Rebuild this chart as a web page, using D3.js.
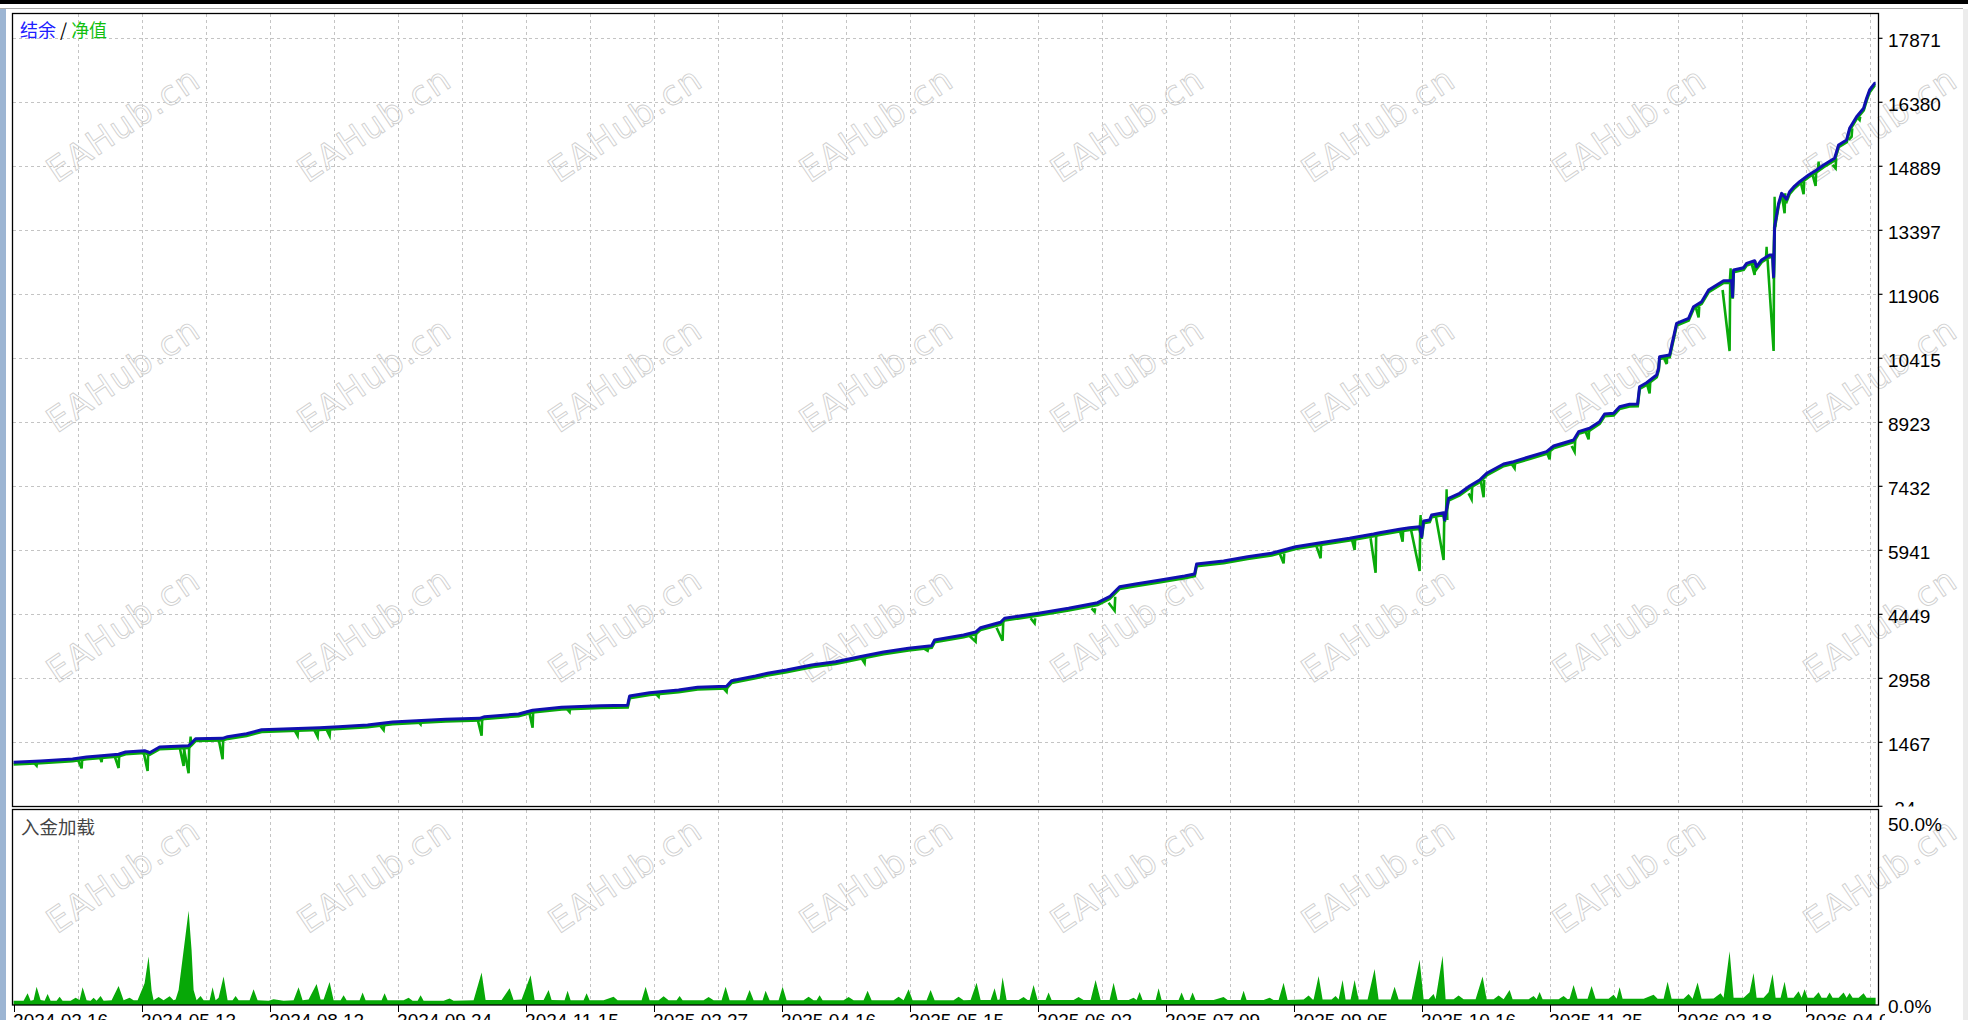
<!DOCTYPE html>
<html><head><meta charset="utf-8">
<script src="https://cdn.jsdelivr.net/npm/d3@7/dist/d3.min.js"></script>
<style>
html,body{margin:0;padding:0;background:#fff;overflow:hidden;}
svg{display:block;}
</style></head><body>
<svg id="c" width="1968" height="1020"></svg>
<script>
// ---------- DATA ----------
// balance: [trade number, balance]
const balanceSeries = [[0,1000],[27,1032],[59,1078],[73,1125],[85,1148],[105,1188],[112,1241],[131,1272],[136,1225],[146,1358],[175,1388],[178,1451],[182,1551],[209,1560],[214,1598],[233,1668],[248,1761],[277,1784],[306,1807],[325,1831],[354,1870],[379,1940],[403,1971],[432,2003],[466,2026],[471,2064],[505,2127],[519,2213],[548,2283],[587,2320],[614,2330],[616,2546],[636,2623],[665,2686],[684,2749],[713,2772],[718,2903],[742,3012],[754,3075],[773,3152],[798,3268],[822,3345],[846,3462],[870,3571],[895,3657],[918,3718],[921,3851],[950,3967],[962,4037],[967,4137],[987,4263],[991,4357],[1025,4473],[1055,4590],[1084,4720],[1096,4860],[1106,5093],[1122,5156],[1147,5249],[1171,5342],[1181,5389],[1183,5622],[1210,5692],[1234,5792],[1258,5871],[1282,6025],[1307,6118],[1336,6221],[1360,6321],[1366,6351],[1386,6430],[1396,6468],[1406,6491],[1408,6258],[1410,6624],[1416,6647],[1418,6764],[1430,6817],[1431,6647],[1435,7153],[1446,7269],[1456,7439],[1466,7579],[1473,7735],[1490,7952],[1500,8006],[1516,8122],[1533,8239],[1540,8371],[1560,8511],[1565,8705],[1576,8784],[1586,8938],[1591,9117],[1600,9133],[1606,9287],[1616,9343],[1624,9350],[1626,9753],[1633,9846],[1643,10026],[1645,10182],[1646,10452],[1656,10492],[1663,11230],[1675,11347],[1680,11617],[1688,11734],[1695,12006],[1710,12223],[1718,12223],[1719,11850],[1720,12472],[1730,12526],[1733,12628],[1741,12689],[1743,12549],[1748,12705],[1756,12822],[1759,12822],[1760,12316],[1761,13481],[1765,14026],[1768,14259],[1773,14120],[1776,14297],[1781,14429],[1786,14530],[1795,14686],[1803,14802],[1810,14919],[1821,15075],[1825,15385],[1833,15502],[1836,15774],[1843,16044],[1850,16240],[1853,16473],[1856,16666],[1861,16822],[1862,16822]];
// equity drawdowns: [start trade, trade of low, lowest equity]
const equityDips = [[20,23,922],[64,68,861],[86,88,1008],[101,105,868],[130,134,798],[166,170,915],[170,175,745],[205,209,1071],[280,284,1621],[300,304,1598],[312,316,1621],[366,370,1754],[404,407,1887],[464,468,1621],[516,519,1807],[552,556,2173],[641,645,2530],[709,713,2646],[847,851,3315],[910,914,3602],[955,962,3811],[983,989,3835],[1017,1021,4240],[1078,1081,4510],[1095,1101,4534],[1266,1270,5638],[1303,1307,5755],[1338,1341,5948],[1357,1362,5419],[1386,1389,6141],[1397,1406,5459],[1422,1430,5715],[1455,1458,7129],[1467,1470,7176],[1498,1501,7852],[1533,1536,8061],[1558,1561,8239],[1572,1575,8527],[1633,1636,9599],[1650,1653,10282],[1682,1685,11370],[1709,1716,10585],[1738,1741,12356],[1754,1760,10585],[1768,1771,13793],[1787,1790,14236],[1799,1802,14429],[1819,1822,14842],[1835,1838,15578],[1843,1846,15967]];
// equity above balance: [trade, equity]
const equitySpikes = [[177,1598],[1407,6764],[1433,7362],[1717,12512],[1753,13015],[1761,14180],[1805,14996]];
// deposit load (%): [trade, load]
const loadSeries = [[0,1.2],[10,1.2],[14,3.2],[17,1.2],[20,1.4],[23,5.0],[27,1.4],[31,1.2],[34,3.0],[37,1.2],[43,1.2],[46,2.3],[49,1.2],[57,1.2],[62,2.0],[66,1.4],[69,4.9],[73,1.3],[77,1.2],[80,2.0],[83,1.2],[87,2.5],[90,1.2],[98,1.3],[105,5.2],[110,1.3],[116,2.0],[120,1.3],[124,1.3],[131,6],[135,13.3],[138,4],[140,1.3],[145,2.2],[150,1.3],[156,2.4],[160,1.3],[162,1.5],[165,4.1],[170,15],[175,25.9],[178,15],[180,4.1],[183,1.3],[187,2.5],[190,1.3],[196,1.3],[199,4.9],[202,1.3],[205,2.0],[210,7.8],[214,1.3],[219,1.3],[222,2.5],[225,1.3],[236,1.3],[240,4.3],[244,1.3],[255,1.2],[260,1.6],[270,1.2],[280,1.3],[285,4.9],[289,1.3],[295,1.5],[303,5.8],[307,1.5],[310,1.5],[316,6.3],[320,1.3],[327,1.3],[330,2.7],[333,1.3],[346,1.3],[349,3.4],[352,1.3],[368,1.3],[371,3.2],[374,1.3],[390,1.3],[395,2.0],[399,1.2],[404,1.2],[407,2.7],[410,1.2],[430,1.2],[436,1.8],[440,1.2],[460,1.3],[468,8.9],[472,1.4],[488,1.4],[496,4.6],[500,1.4],[508,1.5],[517,8.2],[521,1.4],[530,1.4],[535,4.1],[538,1.4],[551,1.3],[554,3.9],[557,1.3],[570,1.3],[573,3.2],[576,1.3],[590,1.3],[600,2.3],[604,1.3],[628,1.3],[632,5.0],[636,1.3],[645,1.3],[650,2.4],[655,1.3],[663,1.3],[666,2.5],[669,1.3],[690,1.3],[695,2.2],[700,1.3],[708,1.3],[712,5.0],[716,1.3],[732,1.3],[736,4.1],[740,1.3],[749,1.3],[752,3.9],[756,1.3],[765,1.3],[769,5.0],[773,1.3],[790,1.3],[795,2.3],[800,1.3],[803,1.3],[806,2.7],[809,1.3],[830,1.3],[835,2.2],[840,1.3],[850,1.3],[854,3.9],[858,1.3],[880,1.3],[885,2.3],[890,1.3],[895,4.3],[899,1.3],[913,1.3],[917,4.1],[921,1.3],[940,1.3],[945,2.3],[950,1.3],[957,1.4],[963,6.1],[967,1.4],[977,1.4],[981,4.6],[984,1.4],[986,1.5],[989,7.6],[993,1.4],[1005,1.4],[1010,2.2],[1014,1.4],[1016,1.4],[1020,5.5],[1024,1.4],[1032,1.4],[1035,3.4],[1038,1.4],[1060,1.4],[1065,2.2],[1070,1.4],[1077,1.4],[1082,6.9],[1087,1.4],[1096,1.4],[1100,6.1],[1104,1.4],[1115,1.4],[1120,2.0],[1123,1.4],[1126,3.6],[1129,1.4],[1142,1.4],[1145,4.6],[1148,1.4],[1165,1.4],[1168,3.4],[1171,1.4],[1176,1.4],[1179,3.4],[1182,1.4],[1200,1.4],[1210,2.2],[1214,1.4],[1227,1.4],[1230,3.9],[1233,1.4],[1250,1.4],[1256,2.0],[1260,1.4],[1265,1.4],[1270,6.1],[1274,1.4],[1290,1.5],[1295,2.6],[1299,1.5],[1300,1.5],[1305,8.0],[1309,1.5],[1318,1.5],[1322,2.5],[1325,1.5],[1329,6.9],[1332,1.5],[1337,1.5],[1341,6.9],[1345,1.5],[1354,1.5],[1361,9.9],[1365,1.5],[1377,1.5],[1381,5.0],[1385,1.5],[1398,1.5],[1406,12.4],[1410,1.6],[1415,1.6],[1420,3.0],[1422,1.6],[1429,13.5],[1432,1.6],[1440,1.6],[1445,2.6],[1450,1.6],[1462,1.6],[1469,7.8],[1473,1.6],[1480,1.6],[1485,2.6],[1490,1.6],[1496,4.1],[1499,1.6],[1515,1.6],[1520,2.5],[1523,1.6],[1526,3.6],[1529,1.6],[1545,1.6],[1550,2.5],[1554,1.6],[1556,1.7],[1560,5.5],[1564,1.7],[1574,1.7],[1578,5.2],[1582,1.7],[1595,1.7],[1600,2.8],[1603,1.7],[1606,4.9],[1609,1.7],[1630,1.7],[1640,2.8],[1644,1.7],[1650,1.7],[1654,6.4],[1658,1.7],[1670,1.7],[1675,3.0],[1679,1.7],[1684,6.2],[1688,1.7],[1700,1.8],[1707,3.2],[1710,2.0],[1716,14.8],[1720,2.0],[1730,2.0],[1736,3.5],[1740,8.8],[1743,2.0],[1750,2.0],[1755,3.5],[1759,8.5],[1762,2.0],[1767,2.0],[1771,6.4],[1774,2.0],[1780,2.0],[1785,3.8],[1788,2.0],[1791,4.3],[1794,2.0],[1800,2.0],[1805,3.5],[1808,2.0],[1813,2.0],[1816,3.4],[1819,2.0],[1825,2.0],[1830,3.4],[1833,2.0],[1836,3.3],[1839,2.0],[1845,2.0],[1850,3.2],[1853,2.0],[1862,2.0]];
const yTickValues = [-24,1467,2958,4449,5941,7432,8923,10415,11906,13397,14889,16380,17871];
const dateLabels = ["2024.02.16","2024.05.13","2024.08.12","2024.09.24","2024.11.15","2025.02.27","2025.04.16","2025.05.15","2025.06.02","2025.07.09","2025.09.05","2025.10.16","2025.11.25","2026.02.18","2026.04.07"];
const loadTickValues = [0,50];
const loadTickLabels = ["0.0%","50.0%"];
const legendBalance = "结余", legendEquity = "净值", loadTitle = "入金加载";
const watermarkText = "EAHub.cn";
const totalTrades = 1864;

// ---------- LAYOUT ----------
const svg = d3.select('#c');
const W = 1968, H = 1020;
const L = 12.5, R = 1878.5, MT = 13.5, MB = 806.5, LT = 809.5, LB = 1005;
const x = d3.scaleLinear().domain([0, totalTrades]).range([13.6, 1877.6]);
const y = d3.scaleLinear().domain([-24, 17871]).range([806.3, 38.3]);
const yl = d3.scaleLinear().domain([0, 50]).range([1005, 823]);
const FONT = "'Liberation Sans', Arial, sans-serif";
const CJK = "'Noto Sans CJK SC', sans-serif";
const BLUE = "#1010b0", GREEN = "#0aaa0a";

// chrome
svg.append('rect').attr('x',0).attr('y',0).attr('width',W).attr('height',H).attr('fill','#fff');
svg.append('rect').attr('x',0).attr('y',0).attr('width',W).attr('height',4).attr('fill','#000');
svg.append('line').attr('x1',0).attr('x2',1963).attr('y1',8.5).attr('y2',8.5).attr('stroke','#a8a8a8');
svg.append('rect').attr('x',0).attr('y',9).attr('width',6).attr('height',H-9).attr('fill','#9cb5d3');
svg.append('rect').attr('x',1963).attr('y',9).attr('width',5).attr('height',H-9).attr('fill','#ececec');

const defs = svg.append('defs');
defs.append('clipPath').attr('id','mainClip').append('rect').attr('x',L).attr('y',MT).attr('width',R-L).attr('height',MB-MT);
defs.append('clipPath').attr('id','lowClip').append('rect').attr('x',L).attr('y',LT).attr('width',R-L).attr('height',LB-LT);
defs.append('clipPath').attr('id','yLabClip').append('rect').attr('x',R).attr('y',0).attr('width',W-R).attr('height',MB);
defs.append('clipPath').attr('id','xLabClip').append('rect').attr('x',0).attr('y',LB).attr('width',1885).attr('height',H-LB);

// grid
const grid = svg.append('g').attr('stroke','#c4c4c4').attr('stroke-width',1).attr('stroke-dasharray','3,3').attr('shape-rendering','crispEdges');
const gridTrades = d3.range(64, totalTrades, 64);
grid.selectAll('.gv').data(gridTrades).join('line')
  .attr('x1',d=>Math.round(x(d))+0.5).attr('x2',d=>Math.round(x(d))+0.5).attr('y1',MT).attr('y2',MB);
grid.selectAll('.gv2').data(gridTrades).join('line')
  .attr('x1',d=>Math.round(x(d))+0.5).attr('x2',d=>Math.round(x(d))+0.5).attr('y1',LT).attr('y2',LB);
grid.selectAll('.gh').data(yTickValues.slice(1)).join('line')
  .attr('x1',L).attr('x2',R).attr('y1',d=>Math.round(y(d))+0.5).attr('y2',d=>Math.round(y(d))+0.5);

// watermark
const wm = svg.append('g').attr('fill','none').attr('stroke','#cfcfcf').attr('stroke-width',0.9);
for (let k=0;k<8;k++) for (let m=0;m<4;m++) {
  wm.append('text').attr('transform',`translate(${123+251*k},${124+250.3*m}) rotate(-34)`)
    .attr('text-anchor','middle').attr('dy','0.36em')
    .style('font-family',"'DejaVu Sans', sans-serif").style('font-size','34px').style('letter-spacing','1.5px')
    .text(watermarkText);
}

// balance lookup
const balAt = t => { let v = balanceSeries[0][1]; for (const [bt,bv] of balanceSeries) { if (bt<=t) v=bv; else break; } return v; };

// main panel lines
const gm = svg.append('g').attr('clip-path','url(#mainClip)');
const balLine = d3.line().x(d=>x(d[0])).y(d=>y(d[1]));
gm.append('path').datum(balanceSeries).attr('d',balLine).attr('fill','none')
  .attr('stroke',GREEN).attr('stroke-width',3).attr('transform','translate(0,2)');
const lin = d3.line().x(d=>x(d[0])).y(d=>y(d[1]));
gm.selectAll('.dip').data(equityDips).join('path')
  .attr('d',d=>lin([[d[0],balAt(d[0])],[d[1],d[2]],[d[1]+0.6,balAt(d[1]+1)]]))
  .attr('fill','none').attr('stroke',GREEN).attr('stroke-width',2.6).attr('stroke-linejoin','miter');
gm.selectAll('.spk').data(equitySpikes).join('path')
  .attr('d',d=>lin([[d[0]-0.8,balAt(d[0]-1)],[d[0],d[1]],[d[0]+0.8,balAt(d[0]+1)]]))
  .attr('fill','none').attr('stroke',GREEN).attr('stroke-width',2.4);
gm.append('path').datum(balanceSeries).attr('d',balLine).attr('fill','none')
  .attr('stroke',BLUE).attr('stroke-width',3).attr('stroke-linejoin','round');

// lower panel: deposit load
const gl = svg.append('g').attr('clip-path','url(#lowClip)');
gl.append('path').datum(loadSeries)
  .attr('d', d3.area().x(d=>x(d[0])).y0(yl(0)).y1(d=>yl(d[1])))
  .attr('fill','#07a807');

// frames
const fr = svg.append('g').attr('fill','none').attr('stroke','#000').attr('stroke-width',1.3);
fr.append('rect').attr('x',L).attr('y',MT).attr('width',R-L).attr('height',MB-MT);
fr.append('rect').attr('x',L).attr('y',LT).attr('width',R-L).attr('height',LB-LT);

// right axis ticks + labels
const ya = svg.append('g');
ya.selectAll('line').data(yTickValues).join('line')
  .attr('x1',R).attr('x2',R+4).attr('y1',d=>y(d)).attr('y2',d=>y(d)).attr('stroke','#000').attr('stroke-width',1.2);
ya.append('g').attr('clip-path','url(#yLabClip)').selectAll('text').data(yTickValues).join('text')
  .attr('x',1888).attr('y',d=>y(d)+8.4).style('font-family',FONT).style('font-size','19px').attr('fill','#000')
  .text(d=>d);
svg.selectAll('.lt').data(loadTickValues).join('text')
  .attr('x',1888).attr('y',d=>yl(d)+7.6).style('font-family',FONT).style('font-size','19px').attr('fill','#000')
  .text((d,i)=>loadTickLabels[i]);

// bottom axis
const dateTrades = d3.range(0, dateLabels.length*128, 128);
const xa = svg.append('g');
xa.selectAll('line').data(dateTrades).join('line')
  .attr('x1',d=>Math.round(x(d))+0.5).attr('x2',d=>Math.round(x(d))+0.5).attr('y1',LB).attr('y2',LB+7).attr('stroke','#000');
xa.append('g').attr('clip-path','url(#xLabClip)').selectAll('text').data(dateTrades).join('text')
  .attr('x',d=>x(d)-0.5).attr('y',1027).style('font-family',FONT).style('font-size','19px').attr('fill','#000')
  .text((d,i)=>dateLabels[i]);

// legends
const lg = svg.append('text').attr('x',20).attr('y',36.5).style('font-family',CJK).style('font-size','18px');
lg.append('tspan').attr('fill','#2020ff').text(legendBalance);
lg.append('tspan').attr('fill','#000').text(' / ');
lg.append('tspan').attr('fill','#10c010').text(legendEquity);
svg.append('text').attr('x',21).attr('y',833.5).style('font-family',CJK).style('font-size','18.5px').attr('fill','#444').text(loadTitle);
</script>
</body></html>
